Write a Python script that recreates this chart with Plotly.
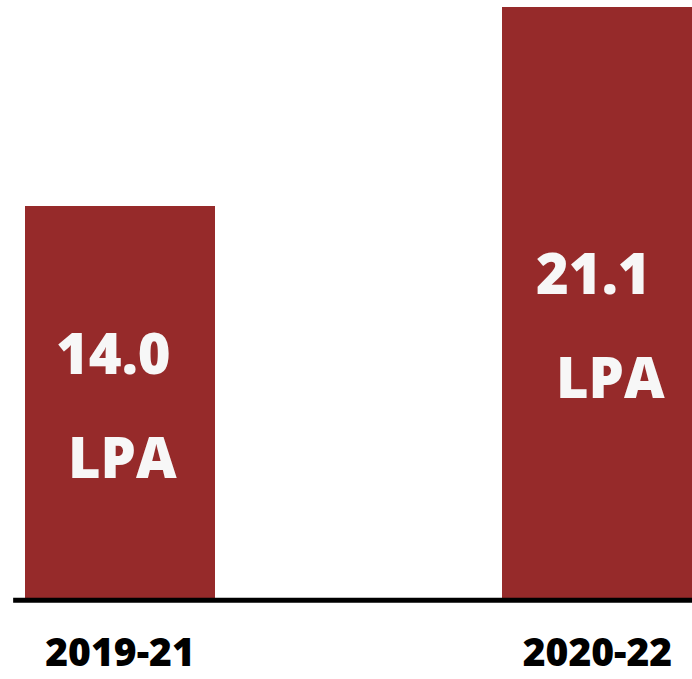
import plotly.graph_objects as go

categories = ["2019-21", "2020-22"]
values = [14.0, 21.1]
value_labels = ["14.0", "21.1"]
unit_label = "LPA"

bar_color = "#962a2a"
font_family = "Open Sans, Roboto, Lato, sans-serif"

fig = go.Figure()
fig.add_trace(go.Bar(
    x=categories, y=values,
    marker=dict(color=bar_color, line=dict(width=0)),
    width=0.398,
    hoverinfo="skip",
))

# value labels inside bars (number line and unit line)
num_pos = [(-6, 0.629), (-4, 0.552)]
for cat, val, lab, (xs, frac) in zip(categories, values, value_labels, num_pos):
    fig.add_annotation(x=cat, y=val * frac, text=lab, showarrow=False,
                       xshift=xs, yanchor="middle",
                       font=dict(family=font_family, size=56, color="#f7f7f7", weight=800))

unit_pos = [(3, 0.364), (13, 0.377)]
for cat, val, (xs, frac) in zip(categories, values, unit_pos):
    fig.add_annotation(x=cat, y=val * frac, text=unit_label, showarrow=False,
                       xshift=xs, yanchor="middle",
                       font=dict(family=font_family, size=56, color="#f7f7f7", weight=800))

# baseline (paper-referenced so it is not clipped by the plot area)
fig.add_shape(type="line", xref="paper", yref="paper", x0=0.019, x1=1, y0=-0.002, y1=-0.002,
              line=dict(color="black", width=5), layer="above")

fig.update_layout(
    width=692, height=679,
    margin=dict(l=0, r=0, t=0, b=80, autoexpand=False),
    plot_bgcolor="white", paper_bgcolor="white",
    showlegend=False,
    bargap=0,
)
fig.update_xaxes(range=[-0.2513, 1.198], showgrid=False, zeroline=False, showline=False,
                 ticks="", ticklabelstandoff=27, automargin=False,
                 tickfont=dict(family=font_family, size=39, color="black", weight=800))
fig.update_yaxes(range=[0, 21.35], visible=False, showgrid=False, zeroline=False)

fig.write_html("out.html", config={"displayModeBar": False, "staticPlot": True},
               post_script="document.body.style.margin='0';document.body.style.overflow='hidden';")
